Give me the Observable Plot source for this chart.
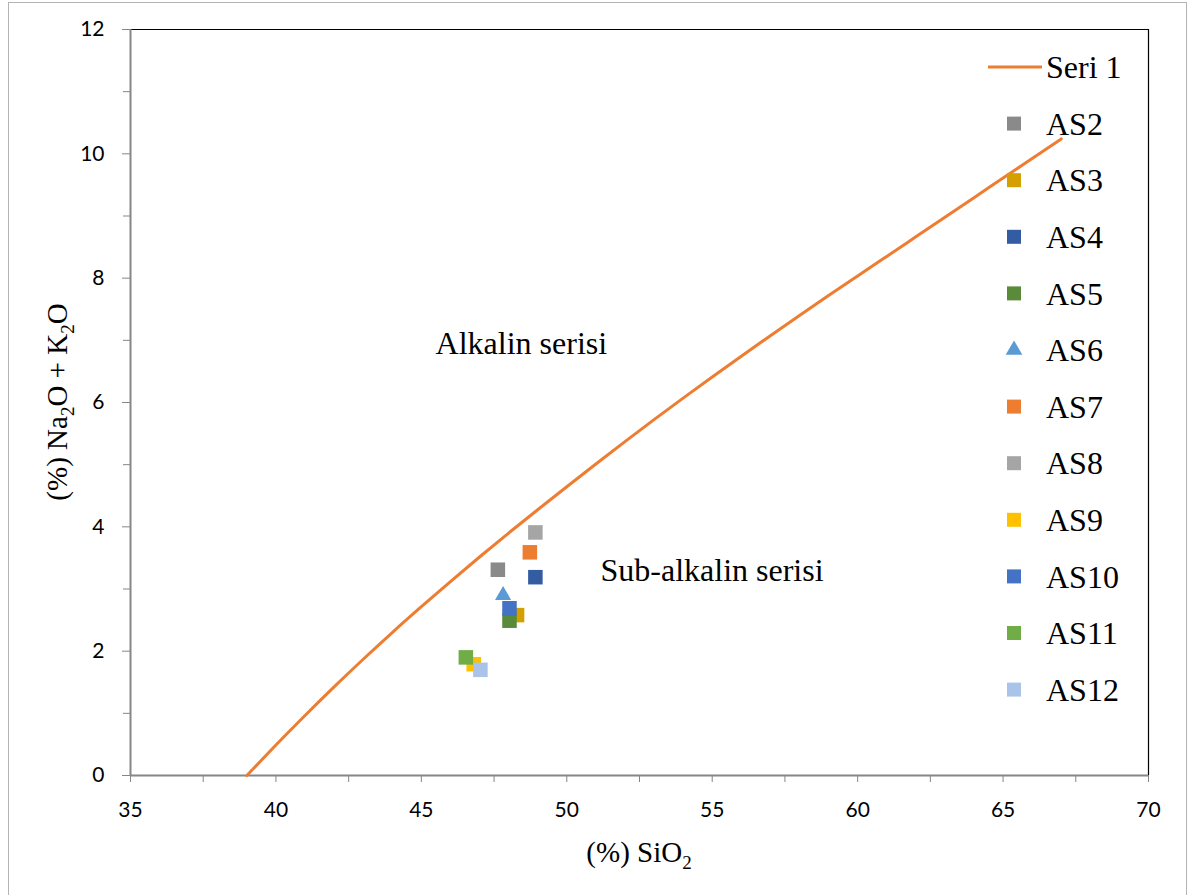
<!DOCTYPE html>
<html>
<head>
<meta charset="utf-8">
<script src="https://cdn.jsdelivr.net/npm/d3@7"></script>
<script src="https://cdn.jsdelivr.net/npm/@observablehq/plot@0.6"></script>
<style>
  body { margin: 0; background: #fff; }
  #wrap { position: relative; width: 1188px; height: 895px; overflow: hidden; background: #fff; }
  #border { position: absolute; left: 8px; top: 2px; width: 1179px; height: 920px; border: 1px solid #b4b4b4; box-sizing: border-box; pointer-events: none; }
  #chart { position: absolute; left: 0; top: 0; }
  .serif { font-family: "Liberation Serif", "Times New Roman", serif !important; }
</style>
</head>
<body>
<div id="wrap"><div id="chart"></div><div id="border"></div></div>
<script>
// ---- data ----
const samples = ["AS2", "AS3", "AS4", "AS5", "AS6", "AS7", "AS8", "AS9", "AS10", "AS11", "AS12"];
const sio2 =    [47.63, 48.29, 48.92, 48.03, 47.81, 48.73, 48.92, 46.80, 48.03, 46.53, 47.03];
const alkali =  [3.31,  2.58,  3.19,  2.49,  2.90,  3.59,  3.91,  1.79,  2.69,  1.90,  1.70];
const sampleColors = ["#8a8a8a", "#d4a000", "#345ca3", "#5a8b3a", "#5b9bd5", "#ed7d31", "#a5a5a5", "#ffc000", "#4472c4", "#70ad47", "#a9c4e8"];
const sampleSymbols = ["square", "square", "square", "square", "triangle", "square", "square", "square", "square", "square", "square"];

const seriesName = "Seri 1";
const divideSiO2 =   [39, 40, 41, 42, 43, 44, 45, 46, 47, 48, 49, 50, 51, 52, 53, 54, 55, 56, 57, 58, 59, 60, 61, 62, 63, 64, 65, 66, 67];
const divideAlkali = [0, 0.49, 0.965, 1.425, 1.87, 2.30, 2.715, 3.12, 3.515, 3.90, 4.275, 4.645, 5.01, 5.37, 5.725, 6.07, 6.41, 6.745, 7.075, 7.40, 7.72, 8.035, 8.35, 8.665, 8.98, 9.295, 9.61, 9.925, 10.24];

const annotationText = ["Alkalin serisi", "Sub-alkalin serisi"];
const annotationX = [45.49, 51.16];
const annotationY = [6.95, 3.30];

const xTicks = [35, 40, 45, 50, 55, 60, 65, 70];
const xMinorTicks = [37.5, 42.5, 47.5, 52.5, 57.5, 62.5, 67.5];
const yTicks = [0, 2, 4, 6, 8, 10, 12];
const yMinorTicks = [1, 3, 5, 7, 9, 11];

// ---- build ----
const points = samples.map((s, i) => ({ name: s, x: sio2[i], y: alkali[i] }));
const divide = divideSiO2.map((x, i) => ({ x, y: divideAlkali[i] }));
const annotations = annotationText.map((t, i) => ({ t, x: annotationX[i], y: annotationY[i] }));

const axisGray = "#868686";
const serif = "Liberation Serif";

const plot = Plot.plot({
  width: 1188,
  height: 895,
  marginLeft: 130,
  marginRight: 40,
  marginTop: 29,
  marginBottom: 120,
  x: { domain: [35, 70] },
  y: { domain: [0, 12] },
  style: { background: "transparent", fontFamily: "Lato, 'Open Sans', sans-serif", fontSize: "21px", color: "#000", overflow: "visible" },
  marks: [
    Plot.ruleX([70], { stroke: "#000", strokeWidth: 1.2 }),
    Plot.ruleY([12], { stroke: "#000", strokeWidth: 1.2 }),
    Plot.axisX({ ticks: xTicks, tickSize: 7, tickPadding: 20, stroke: axisGray, fill: "#000", label: null, tickFormat: d => String(d) }),
    Plot.axisX({ ticks: xMinorTicks, tickSize: 7, stroke: axisGray, label: null, tickFormat: () => "" }),
    Plot.axisY({ ticks: yTicks, tickSize: 8, tickPadding: 18, stroke: axisGray, fill: "#000", label: null, tickFormat: d => String(d) }),
    Plot.axisY({ ticks: yMinorTicks, tickSize: 7, stroke: axisGray, label: null, tickFormat: () => "" }),
    Plot.ruleX([35], { stroke: axisGray, strokeWidth: 2 }),
    Plot.ruleY([0], { stroke: axisGray, strokeWidth: 2 }),
    Plot.line(divide, { x: "x", y: "y", stroke: "#ed7d31", strokeWidth: 3, curve: "natural" }),
    ...points.map((p, i) => Plot.dot([p], {
      x: "x", y: "y", fill: sampleColors[i], symbol: sampleSymbols[i],
      r: sampleSymbols[i] === "triangle" ? 6 : 8.2
    })),
    Plot.text(annotations, { x: "x", y: "y", text: "t", textAnchor: "start", fontFamily: serif, fontSize: 32, fill: "#000", className: "serif" })
  ]
});

document.getElementById("chart").appendChild(plot);

// ---- axis titles with subscripts ----
const svg = d3.select(plot);
const xt = svg.append("text")
  .attr("class", "serif")
  .attr("x", 639).attr("y", 862)
  .attr("text-anchor", "middle")
  .style("font-size", "29px").attr("fill", "#000");
xt.append("tspan").text("(%) SiO");
xt.append("tspan").attr("dy", 7).style("font-size", "19px").text("2");

const yt = svg.append("text")
  .attr("class", "serif")
  .attr("transform", "translate(67,402) rotate(-90)")
  .attr("text-anchor", "middle")
  .style("font-size", "29px").attr("fill", "#000");
yt.append("tspan").text("(%) Na");
yt.append("tspan").attr("dy", 7).style("font-size", "19px").text("2");
yt.append("tspan").attr("dy", -7).text("O + K");
yt.append("tspan").attr("dy", 7).style("font-size", "19px").text("2");
yt.append("tspan").attr("dy", -7).text("O");

// ---- legend ----
const lg = svg.append("g").attr("class", "serif").style("font-size", "32px").attr("fill", "#000").attr("text-anchor", "start");
const legendTop = 67, legendStep = 56.6, markerX = 1014, textX = 1046;
lg.append("line").attr("x1", 988).attr("x2", 1042).attr("y1", legendTop).attr("y2", legendTop)
  .attr("stroke", "#ed7d31").attr("stroke-width", 3);
lg.append("text").attr("class", "serif").attr("x", textX).attr("y", legendTop).attr("dy", "0.35em").attr("text-anchor", "start").text(seriesName);
samples.forEach((s, i) => {
  const cy = legendTop + legendStep * (i + 1);
  const sym = sampleSymbols[i] === "triangle" ? d3.symbolTriangle : d3.symbolSquare;
  const size = sampleSymbols[i] === "triangle" ? 120 : 196;
  lg.append("path").attr("transform", `translate(${markerX},${cy})`)
    .attr("d", d3.symbol(sym, size)()).attr("fill", sampleColors[i]);
  lg.append("text").attr("class", "serif").attr("x", textX).attr("y", cy).attr("dy", "0.35em").attr("text-anchor", "start").text(s);
});
</script>
</body>
</html>
